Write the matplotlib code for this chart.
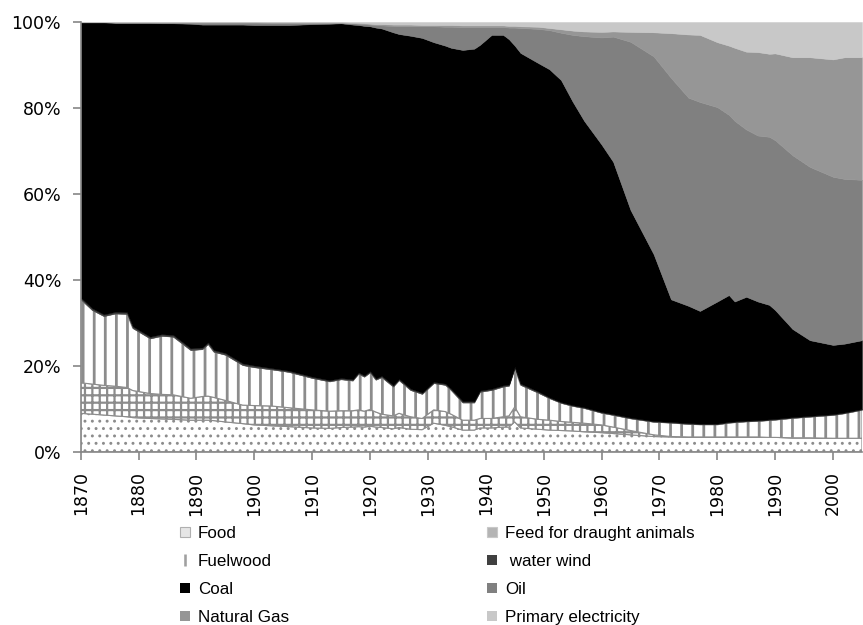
import numpy as np
import matplotlib
matplotlib.use("Agg")
import matplotlib.pyplot as plt
from matplotlib.lines import Line2D

years = [1870, 1872, 1874, 1876, 1878, 1879, 1882, 1884, 1886, 1889,
         1891, 1892, 1893, 1895, 1898, 1900, 1903, 1906, 1910, 1913,
         1915, 1917, 1918, 1919, 1920, 1921, 1922, 1924, 1925, 1927,
         1929, 1931, 1933, 1934, 1936, 1938, 1939, 1941, 1943, 1944,
         1945, 1946, 1949, 1951, 1953, 1955, 1957, 1960, 1962, 1965,
         1969, 1972, 1975, 1977, 1980, 1982, 1983, 1985, 1987, 1989,
         1990, 1993, 1996, 2000, 2002, 2005]

food = [9.0, 8.8, 8.6, 8.4, 8.2, 8.0, 7.8, 7.7, 7.6, 7.4,
        7.4, 7.4, 7.3, 7.0, 6.6, 6.3, 6.1, 5.9, 5.6, 5.5,
        5.7, 5.8, 5.9, 5.8, 6.0, 5.8, 5.7, 5.4, 5.7, 5.3,
        5.2, 6.7, 6.2, 5.9, 5.1, 5.1, 5.6, 5.6, 5.8, 5.8,
        7.0, 5.6, 5.3, 5.1, 5.0, 4.9, 4.7, 4.5, 4.3, 4.0,
        3.6, 3.5, 3.5, 3.5, 3.5, 3.5, 3.5, 3.5, 3.5, 3.4,
        3.4, 3.3, 3.3, 3.2, 3.2, 3.2]
feed = [7.1, 7.0, 6.9, 6.9, 6.8, 6.3, 5.8, 5.7, 5.7, 5.1,
        5.5, 5.6, 5.4, 5.0, 4.3, 4.5, 4.6, 4.4, 4.2, 4.0,
        3.9, 3.8, 3.9, 3.7, 3.9, 3.5, 3.1, 3.0, 3.3, 2.9,
        2.6, 3.1, 3.2, 2.9, 2.3, 2.3, 2.2, 2.2, 2.4, 2.6,
        3.5, 2.6, 2.3, 2.3, 2.1, 2.0, 2.0, 1.8, 1.5, 1.0,
        0.4, 0.1, 0.0, 0.0, 0.0, 0.0, 0.0, 0.0, 0.0, 0.0,
        0.0, 0.0, 0.0, 0.0, 0.0, 0.0]
fuelwood = [19.4, 17.2, 16.1, 16.9, 17.1, 14.5, 12.8, 13.6, 13.5, 11.2,
            11.0, 12.1, 10.6, 10.6, 9.3, 8.9, 8.5, 8.3, 7.4, 6.9,
            7.3, 7.0, 8.4, 8.0, 8.6, 7.5, 8.6, 6.8, 7.7, 6.2,
            5.7, 6.2, 6.2, 5.6, 4.1, 4.1, 6.2, 6.6, 7.0, 7.0,
            9.0, 7.4, 6.2, 5.1, 4.3, 3.8, 3.5, 2.8, 2.8, 2.8,
            3.0, 3.2, 3.0, 2.9, 2.9, 3.3, 3.4, 3.6, 3.7, 4.0,
            4.1, 4.6, 4.9, 5.4, 5.8, 6.6]
water_wind = [0.4, 0.4, 0.4, 0.4, 0.4, 0.4, 0.4, 0.4, 0.4, 0.4,
              0.4, 0.4, 0.4, 0.4, 0.4, 0.4, 0.3, 0.3, 0.3, 0.3,
              0.3, 0.3, 0.3, 0.3, 0.3, 0.3, 0.3, 0.3, 0.3, 0.3,
              0.3, 0.3, 0.3, 0.3, 0.3, 0.3, 0.3, 0.3, 0.3, 0.3,
              0.3, 0.3, 0.3, 0.2, 0.2, 0.2, 0.2, 0.2, 0.2, 0.2,
              0.2, 0.2, 0.2, 0.2, 0.2, 0.2, 0.2, 0.2, 0.2, 0.2,
              0.2, 0.2, 0.2, 0.2, 0.2, 0.2]
coal = [64.0, 66.5, 67.9, 67.2, 67.3, 70.6, 73.0, 72.3, 72.5, 75.5,
        75.1, 73.9, 75.7, 76.4, 78.8, 79.2, 79.8, 80.4, 82.0, 82.9,
        82.5, 82.5, 80.8, 81.3, 80.2, 81.6, 80.8, 82.1, 80.2, 82.1,
        82.5, 79.0, 78.6, 79.3, 81.7, 82.0, 80.4, 82.3, 81.5, 80.3,
        74.7, 76.9, 76.4, 76.3, 74.9, 70.6, 66.6, 62.2, 58.7, 48.3,
        38.8, 28.5, 27.3, 26.2, 28.4, 29.5, 27.9, 28.8, 27.6, 26.6,
        25.3, 20.5, 17.6, 16.1, 16.0, 16.0]
oil = [0.1, 0.1, 0.1, 0.1, 0.1, 0.1, 0.1, 0.2, 0.2, 0.3,
       0.5, 0.5, 0.5, 0.5, 0.5, 0.6, 0.5, 0.5, 0.3, 0.2,
       0.1, 0.3, 0.3, 0.4, 0.4, 0.6, 0.7, 1.5, 1.8, 2.2,
       2.7, 3.7, 4.4, 4.9, 5.3, 5.0, 4.1, 1.8, 1.8, 2.7,
       4.2, 5.8, 7.9, 9.1, 11.0, 15.5, 19.7, 24.9, 29.1, 39.1,
       46.0, 51.5, 48.4, 48.6, 45.2, 41.9, 42.0, 38.9, 38.6, 39.1,
       39.5, 40.4, 40.3, 39.1, 38.3, 37.3]
natural_gas = [0.0, 0.0, 0.0, 0.0, 0.0, 0.0, 0.0, 0.0, 0.0, 0.0,
               0.0, 0.0, 0.0, 0.0, 0.0, 0.0, 0.1, 0.1, 0.1, 0.1,
               0.1, 0.1, 0.2, 0.2, 0.2, 0.2, 0.3, 0.3, 0.4, 0.4,
               0.3, 0.3, 0.4, 0.4, 0.4, 0.4, 0.4, 0.4, 0.4, 0.4,
               0.4, 0.4, 0.5, 0.5, 0.8, 1.0, 1.1, 1.3, 1.2, 2.3,
               5.6, 10.4, 14.7, 15.6, 15.1, 16.1, 17.0, 18.1, 19.4, 19.3,
               20.2, 22.8, 25.5, 27.3, 28.3, 28.5]
primary_elec = [0.0, 0.0, 0.0, 0.1, 0.1, 0.1, 0.1, 0.1, 0.1, 0.1,
                0.1, 0.1, 0.1, 0.1, 0.1, 0.1, 0.1, 0.1, 0.1, 0.1,
                0.1, 0.2, 0.2, 0.3, 0.4, 0.5, 0.5, 0.6, 0.6, 0.6,
                0.7, 0.7, 0.7, 0.7, 0.8, 0.8, 0.8, 0.8, 0.8, 0.9,
                0.9, 1.0, 1.1, 1.4, 1.7, 2.0, 2.2, 2.3, 2.2, 2.3,
                2.4, 2.6, 2.9, 3.0, 4.7, 5.5, 6.0, 6.9, 7.0, 7.4,
                7.3, 8.2, 8.2, 8.7, 8.2, 8.2]

labels = ["Food", "Feed for draught animals", "Fuelwood", " water wind",
          "Coal", "Oil", "Natural Gas", "Primary electricity"]

# dpi chosen so the hatch spacing comes out close to the original pattern
DPI = 133.33
plt.rcParams['font.family'] = ['DejaVu Sans']
plt.rcParams['hatch.color'] = '#8c8c8c'

series = np.array([food, feed, fuelwood, water_wind, coal, oil,
                   natural_gas, primary_elec], dtype=float)
shares = series / series.sum(axis=0) * 100   # 100% stacked
tops = np.cumsum(shares, axis=0)
bottoms = np.vstack([np.zeros(len(years)), tops[:-1]])

# facecolor, hatch, hatch line width (pt)
styles = [
    ("white", "...", 0.8),
    ("white", "+++", 1.2),
    ("white", "||", 1.5),
    ("#404040", None, 1.0),
    ("black", None, 1.0),
    ("#808080", None, 1.0),
    ("#969696", None, 1.0),
    ("#c8c8c8", None, 1.0),
]

fig = plt.figure(figsize=(863 / DPI, 625 / DPI), dpi=DPI)
ax = fig.add_axes([0.0935, 0.2768, 0.9053, 0.688])

for i, (fc, hatch, hlw) in enumerate(styles):
    with plt.rc_context({'hatch.linewidth': hlw}):
        if hatch:
            coll = ax.fill_between(years, bottoms[i], tops[i], facecolor=fc,
                                   hatch=hatch, edgecolor='#8c8c8c',
                                   linewidth=0.6)
            if hasattr(coll, 'set_hatch_linewidth'):
                coll.set_hatch_linewidth(hlw)
        else:
            ax.fill_between(years, bottoms[i], tops[i], facecolor=fc,
                            edgecolor=fc, linewidth=0.25)

ax.set_xlim(1870, 2005)
ax.set_ylim(0, 100)
ax.set_yticks(range(0, 101, 20))
ax.set_yticklabels([f"{v}%" for v in range(0, 101, 20)])
ax.set_xticks(range(1870, 2001, 10))
ax.set_xticklabels([str(y) for y in range(1870, 2001, 10)], rotation=90)
ax.tick_params(axis='both', colors='#868686', labelcolor='black',
               labelsize=9.4, length=4.5, width=0.9, direction='out')
ax.tick_params(axis='y', pad=6)
ax.tick_params(axis='x', pad=6)
for s in ['top', 'right']:
    ax.spines[s].set_visible(False)
for s in ['left', 'bottom']:
    ax.spines[s].set_color('#868686')
    ax.spines[s].set_linewidth(0.9)

# legend keys
sq = dict(marker='s', linestyle='none', markersize=5.2, markeredgewidth=0)
handles = [
    Line2D([], [], marker='s', linestyle='none', markersize=5.2,
           markerfacecolor='#e6e6e6', markeredgecolor='#b0b0b0',
           markeredgewidth=0.6),
    Line2D([], [], marker='s', linestyle='none', markersize=5.2,
           markerfacecolor='#b4b4b4', markeredgecolor='#c8c8c8',
           markeredgewidth=0.6),
    Line2D([], [], marker='|', linestyle='none', markersize=6,
           markeredgecolor='#a0a0a0', markeredgewidth=1.4),
    Line2D([], [], markerfacecolor='#404040', **sq),
    Line2D([], [], markerfacecolor='black', **sq),
    Line2D([], [], markerfacecolor='#808080', **sq),
    Line2D([], [], markerfacecolor='#969696', **sq),
    Line2D([], [], markerfacecolor='#c8c8c8', **sq),
]

leg_kw = dict(loc='upper left', frameon=False, ncol=1, handlelength=0.6,
              handletextpad=0.45, labelspacing=0.77,
              borderaxespad=0, borderpad=0,
              prop={'family': 'Liberation Sans', 'size': 9.2})
order_left = [0, 2, 4, 6]
order_right = [1, 3, 5, 7]
fig.legend([handles[i] for i in order_left], [labels[i] for i in order_left],
           bbox_to_anchor=(180 / 863, 1 - 526 / 625), **leg_kw)
fig.legend([handles[i] for i in order_right], [labels[i] for i in order_right],
           bbox_to_anchor=(487 / 863, 1 - 526 / 625), **leg_kw)

fig.savefig("out.png", dpi=DPI)
